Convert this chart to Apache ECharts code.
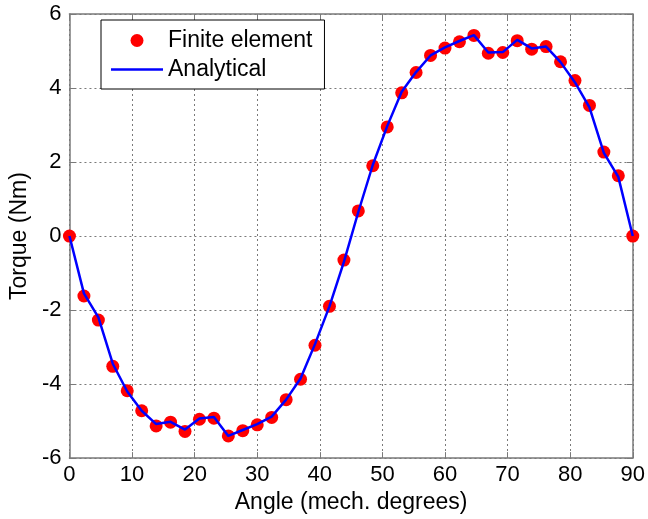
<!DOCTYPE html>
<html><head><meta charset="utf-8">
<script src="https://cdn.jsdelivr.net/npm/echarts@6/dist/echarts.min.js"></script>
<style>html,body{margin:0;padding:0;background:#fff}#c{width:648px;height:519px}</style>
</head><body><div id="c"></div>
<script>
const angles = [0, 2.31, 4.62, 6.92, 9.23, 11.54, 13.85, 16.15, 18.46, 20.77, 23.08, 25.38, 27.69, 30, 32.31, 34.62, 36.92, 39.23, 41.54, 43.85, 46.15, 48.46, 50.77, 53.08, 55.38, 57.69, 60, 62.31, 64.62, 66.92, 69.23, 71.54, 73.85, 76.15, 78.46, 80.77, 83.08, 85.38, 87.69, 90];
const finiteElement = [0, -1.62, -2.27, -3.52, -4.18, -4.72, -5.13, -5.03, -5.28, -4.95, -4.92, -5.40, -5.26, -5.10, -4.90, -4.42, -3.87, -2.95, -1.90, -0.65, 0.68, 1.90, 2.95, 3.87, 4.42, 4.88, 5.08, 5.25, 5.42, 4.94, 4.96, 5.28, 5.05, 5.12, 4.71, 4.20, 3.53, 2.27, 1.63, 0];
const analytical = [0, -1.55, -2.20, -3.45, -4.20, -4.72, -5.08, -5.02, -5.23, -4.93, -4.89, -5.40, -5.24, -5.08, -4.88, -4.42, -3.85, -2.92, -1.90, -0.70, 0.65, 1.92, 2.97, 3.90, 4.43, 4.88, 5.10, 5.27, 5.43, 4.96, 4.97, 5.30, 5.07, 5.12, 4.70, 4.15, 3.48, 2.25, 1.60, 0];
const xTicks = [0, 10, 20, 30, 40, 50, 60, 70, 80, 90];
const yTicks = [-6, -4, -2, 0, 2, 4, 6];

const FONT = 'Liberation Sans, Arial, Helvetica, sans-serif';
const fePts = angles.map((a, i) => [a, finiteElement[i]]);
const anPts = angles.map((a, i) => [a, analytical[i]]);
const frame = '#7a7a7a';
const gridLine = {show: true, lineStyle: {color: '#7a7a7a', type: [2, 3], width: 1}};

const chart = echarts.init(document.getElementById('c'), null, {renderer: 'canvas'});
chart.setOption({
  animation: false,
  backgroundColor: '#fff',
  textStyle: {fontFamily: FONT},
  grid: {left: 67.5, right: 13.5, top: 14, bottom: 60, containLabel: false},
  xAxis: [{
    type: 'value', min: xTicks[0], max: xTicks[xTicks.length - 1], interval: 10,
    name: 'Angle (mech. degrees)', nameLocation: 'middle', nameGap: 31,
    nameTextStyle: {fontSize: 23, color: '#000', fontFamily: FONT},
    axisLine: {show: true, onZero: false, lineStyle: {color: frame, width: 1.5}},
    axisTick: {show: true, inside: true, length: 6, lineStyle: {color: frame}},
    axisLabel: {fontSize: 22, color: '#000', margin: 6, fontFamily: FONT},
    splitLine: gridLine
  }, {
    type: 'value', position: 'top', min: xTicks[0], max: xTicks[xTicks.length - 1], interval: 10,
    axisLine: {show: true, onZero: false, lineStyle: {color: frame, width: 1.5}},
    axisTick: {show: true, inside: true, length: 6, lineStyle: {color: frame}},
    axisLabel: {show: false}, splitLine: {show: false}
  }],
  yAxis: [{
    type: 'value', min: yTicks[0], max: yTicks[yTicks.length - 1], interval: 2,
    name: 'Torque (Nm)', nameLocation: 'middle', nameGap: 32, nameRotate: 90,
    nameTextStyle: {fontSize: 23, color: '#000', fontFamily: FONT},
    axisLine: {show: true, onZero: false, lineStyle: {color: frame, width: 1.5}},
    axisTick: {show: true, inside: true, length: 6, lineStyle: {color: frame}},
    axisLabel: {fontSize: 22, color: '#000', margin: 8, fontFamily: FONT},
    splitLine: gridLine
  }, {
    type: 'value', position: 'right', min: yTicks[0], max: yTicks[yTicks.length - 1], interval: 2,
    axisLine: {show: true, onZero: false, lineStyle: {color: frame, width: 1.5}},
    axisTick: {show: true, inside: true, length: 6, lineStyle: {color: frame}},
    axisLabel: {show: false}, splitLine: {show: false}
  }],
  legend: {
    left: 101, top: 20, orient: 'vertical',
    backgroundColor: '#fff', borderColor: '#000', borderWidth: 1,
    padding: [9, 12, 8, 10], itemGap: 6, itemWidth: 52, itemHeight: 13,
    textStyle: {fontSize: 23, color: '#000', fontFamily: FONT, padding: [0, 8, 0, 0]},
    data: [
      {name: 'Finite element', icon: 'circle'},
      {name: 'Analytical', icon: 'path://M0,0 L52,0 L52,2.4 L0,2.4 Z'}
    ]
  },
  series: [{
    name: 'Analytical', type: 'line', data: anPts, showSymbol: false, symbol: 'none',
    lineStyle: {color: '#0000ff', width: 2.5}, itemStyle: {color: '#0000ff'}, z: 3
  }, {
    name: 'Finite element', type: 'scatter', data: fePts, symbol: 'circle', symbolSize: 13,
    itemStyle: {color: '#ff0000', opacity: 1}, z: 2
  }]
});
</script></body></html>
